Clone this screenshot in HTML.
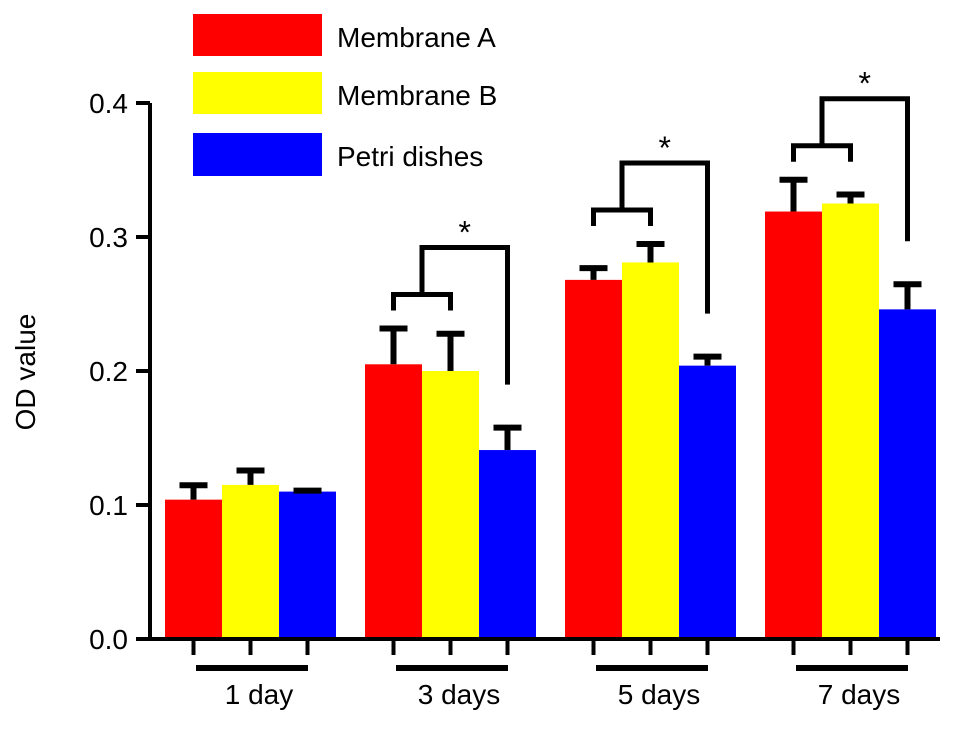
<!DOCTYPE html>
<html><head><meta charset="utf-8"><style>
body{margin:0;background:#fff}
svg text{font-family:"Liberation Sans",sans-serif;fill:#000}
</style></head><body>
<svg id="c" width="969" height="731" viewBox="0 0 969 731">
<g id="legend">
<rect x="193" y="14" width="129" height="42" fill="#ff0000"/>
<text x="337" y="47" font-size="28">Membrane A</text>
<rect x="193" y="72" width="129" height="42" fill="#ffff00"/>
<text x="337" y="105" font-size="28">Membrane B</text>
<rect x="193" y="133" width="129" height="43" fill="#0000ff"/>
<text x="337" y="166" font-size="28">Petri dishes</text>
</g>
<text x="35" y="372" font-size="28" text-anchor="middle" transform="rotate(-90 35 372)">OD value</text>
</svg>
<script>
const categories=["1 day","3 days","5 days","7 days"];
const membraneA=[0.104,0.205,0.268,0.319];
const membraneB=[0.115,0.200,0.281,0.325];
const petri=[0.110,0.141,0.204,0.246];
const errA=[0.013,0.029,0.011,0.026];
const errB=[0.013,0.030,0.016,0.009];
const errP=[0.003,0.019,0.009,0.021];
const yTicks=[0.0,0.1,0.2,0.3,0.4];
const yTickLabels=["0.0","0.1","0.2","0.3","0.4"];
const sigGroups=[1,2,3];

const svg=document.getElementById('c');
const NS='http://www.w3.org/2000/svg';
const y0=639,pxPer=1340;
const y=v=>y0-v*pxPer;
const gx=i=>165+i*200;
const bw=57;
function mk(t,a){const e=document.createElementNS(NS,t);for(const k in a)e.setAttribute(k,a[k]);svg.appendChild(e);return e;}
const series=[membraneA,membraneB,petri],errs=[errA,errB,errP],cols=["#ff0000","#ffff00","#0000ff"],sn=["membrane-a","membrane-b","petri"];
categories.forEach((c,i)=>{
  series.forEach((s,j)=>{
    const x=gx(i)+j*bw, cx=x+bw/2;
    const r=mk('rect',{x:x,y:y(s[i]),width:bw,height:y0-y(s[i]),fill:cols[j]});
    
    
    const top=y(s[i]+errs[j][i]);
    const l=mk('path',{d:`M${cx},${y(s[i])}V${top}M${cx-14},${top+3}H${cx+14}`,stroke:'#000','stroke-width':6,fill:'none'});
    
    
    const t=mk('line',{x1:cx,y1:y0,x2:cx,y2:655,stroke:'#000','stroke-width':4});
    
    
  });
  const u=mk('line',{x1:gx(i)+31,y1:668,x2:gx(i)+143,y2:668,stroke:'#000','stroke-width':6});
  
  
  const tl=mk('text',{x:gx(i)+94,y:704,'font-size':28,'text-anchor':'middle'});
  tl.textContent=c;
  
  
});
sigGroups.forEach(i=>{
  const ca=gx(i)+bw/2, cb=ca+bw, cp=cb+bw;
  const topAB=Math.max(membraneA[i]+errA[i],membraneB[i]+errB[i]);
  const sy=y(topAB)-31, by=sy-47, py=y(petri[i]+errP[i])-40;
  const p=mk('path',{d:`M${ca},${sy+16}V${sy}H${cb}V${sy+16}M${(ca+cb)/2},${sy}V${by}H${cp}V${py}`,stroke:'#000','stroke-width':5,fill:'none'});
  
  
  const s=mk('text',{x:(ca+cb)/2+(cp-(ca+cb)/2)/2,y:by-4,'font-size':32,'text-anchor':'middle'});
  s.textContent='*';
  
  
});
const ax=mk('path',{d:`M150,${y(0.4)}V${y0}H940`,stroke:'#000','stroke-width':4,fill:'none'});


yTicks.forEach((v,k)=>{
  const t=mk('line',{x1:136,y1:y(v),x2:150,y2:y(v),stroke:'#000','stroke-width':4});
  
  
  const l=mk('text',{x:128,y:y(v)+10,'font-size':28,'text-anchor':'end'});
  l.textContent=yTickLabels[k];
  
  
});
</script>
</body></html>
